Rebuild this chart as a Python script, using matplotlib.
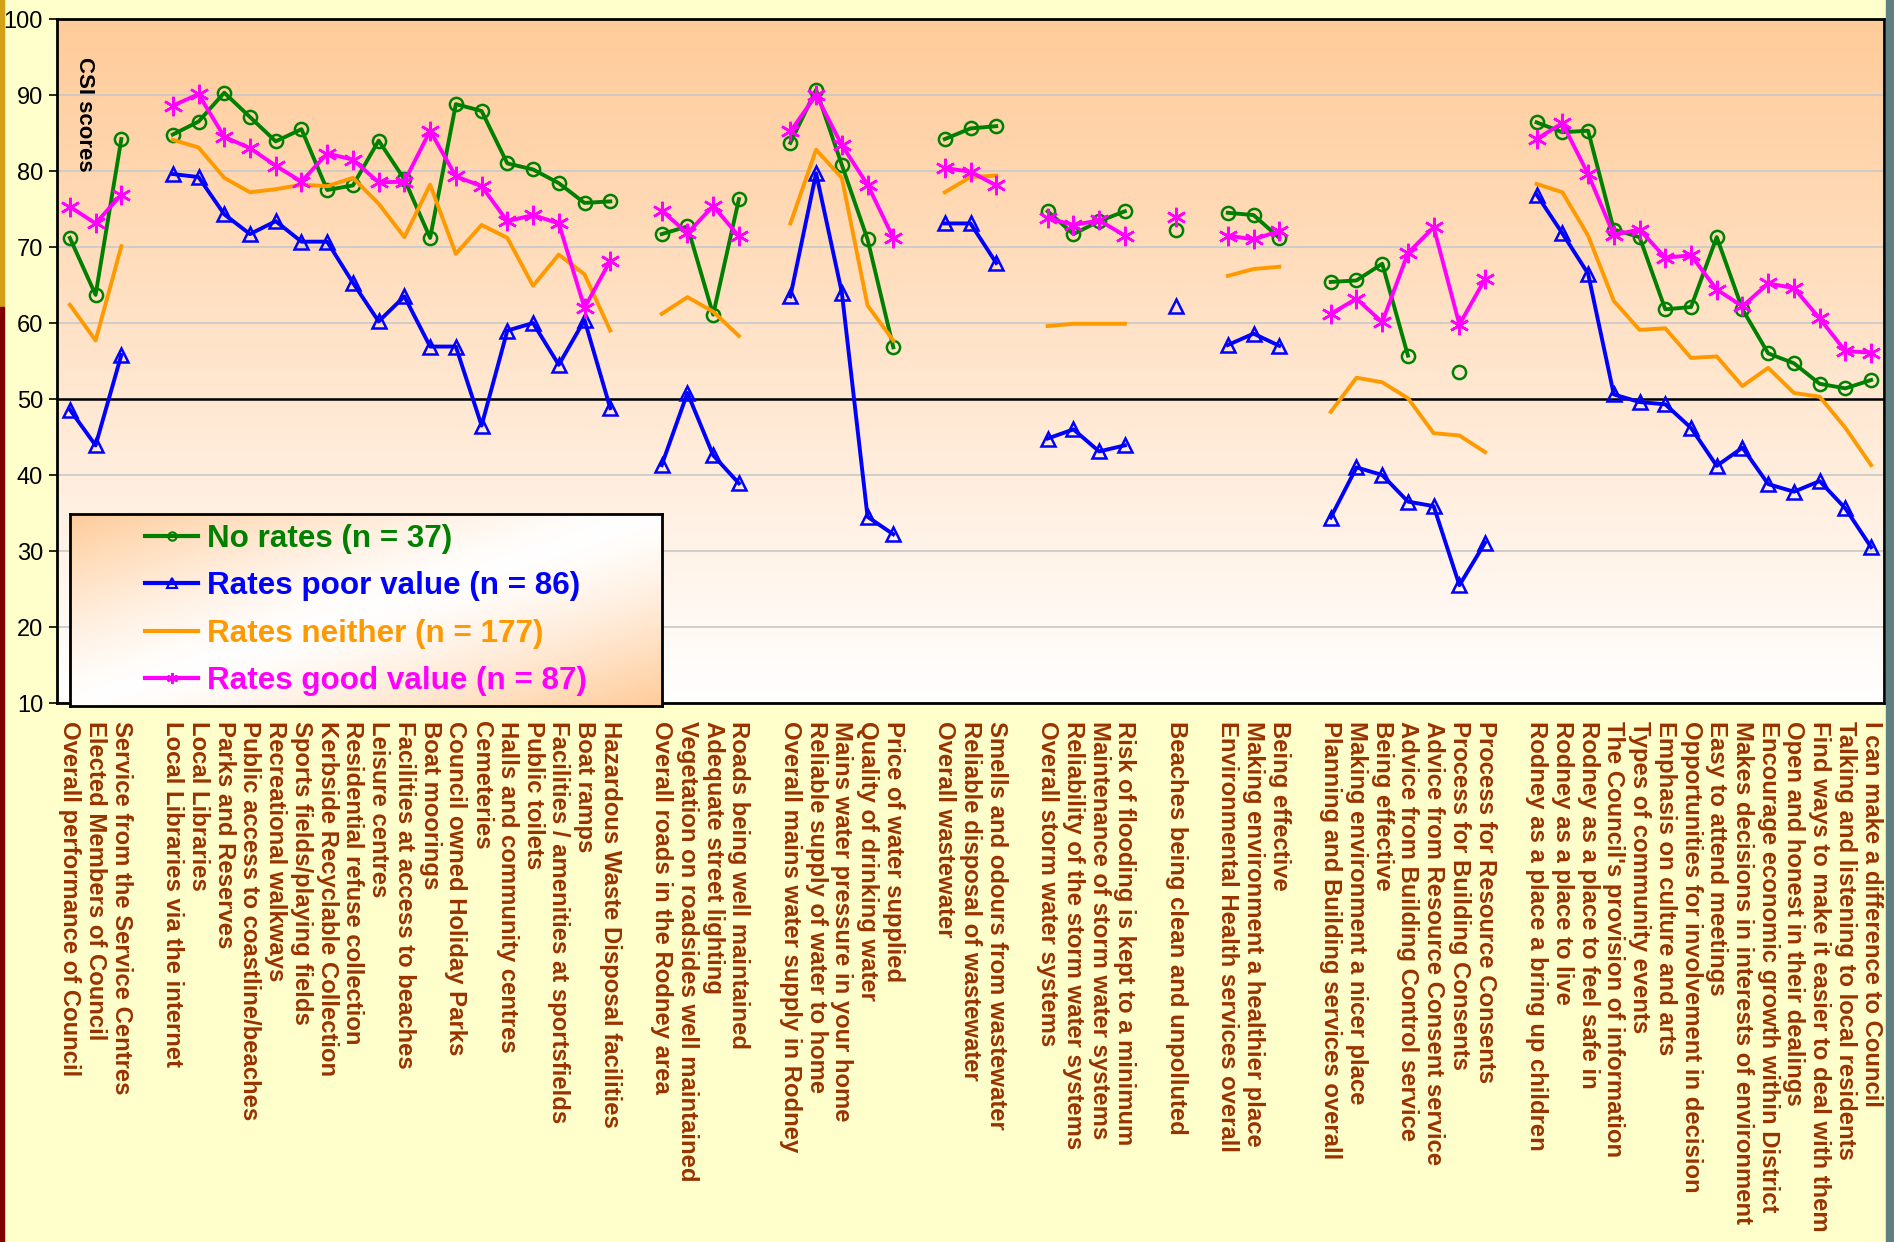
import numpy as np
import matplotlib
matplotlib.use("Agg")
import matplotlib.pyplot as plt
from matplotlib.lines import Line2D
from matplotlib.patches import Rectangle

# category labels, None marks the gap between question groups
labels = [
    "Overall performance of Council", "Elected Members of Council",
    "Service from the Service Centres", None,
    "Local Libraries via the internet", "Local Libraries", "Parks and Reserves",
    "Public access to coastline/beaches", "Recreational walkways",
    "Sports fields/playing fields", "Kerbside Recyclable Collection",
    "Residential refuse collection", "Leisure centres",
    "Facilities at access to beaches", "Boat moorings",
    "Council owned Holiday Parks", "Cemeteries", "Halls and community centres",
    "Public toilets", "Facilities / amenities at sportsfields", "Boat ramps",
    "Hazardous Waste Disposal facilities", None,
    "Overall roads in the Rodney area", "Vegetation on roadsides well maintained",
    "Adequate street lighting", "Roads being well maintained", None,
    "Overall mains water supply in Rodney", "Reliable supply of water to home",
    "Mains water pressure in your home", "Quality of drinking water",
    "Price of water supplied", None,
    "Overall wastewater", "Reliable disposal of wastewater",
    "Smells and odours from wastewater", None,
    "Overall storm water systems", "Reliability of the storm water systems",
    "Maintenance of storm water systems", "Risk of flooding is kept to a minimum", None,
    "Beaches being clean and unpolluted", None,
    "Environmental Health services overall", "Making environment a healthier place",
    "Being effective", None,
    "Planning and Building services overall", "Making environment a nicer place",
    "Being effective", "Advice from Building Control service",
    "Advice from Resource Consent service", "Process for Building Consents",
    "Process for Resource Consents", None,
    "Rodney as a place a bring up children", "Rodney as a place to live",
    "Rodney as a place to feel safe in", "The Council's provision of information",
    "Types of community events", "Emphasis on culture and arts",
    "Opportunities for involvement in decision", "Easy to attend meetings",
    "Makes decisions in interests of environment",
    "Encourage economic growth within District",
    "Open and honest in their dealings",
    "Find ways to make it easier to deal with them",
    "Talking and listening to local residents",
    "I can make a difference to Council",
]

no_rates = [
    71.2, 63.7, 84.2, None,
    84.8, 86.5, 90.3, 87.1, 83.9, 85.5, 77.5, 78.1, 84.0, 78.9, 71.2, 88.8,
    87.9, 81.0, 80.2, 78.4, 75.8, 76.0, None,
    71.7, 72.7, 61.1, 76.3, None,
    83.7, 90.7, 80.8, 71.0, 56.8, None,
    84.2, 85.6, 85.9, None,
    74.7, 71.7, 73.4, 74.7, None,
    72.3, None,
    74.5, 74.2, 71.2, None,
    65.4, 65.6, 67.8, 55.7, None, 53.6, None, None,
    86.4, 85.1, 85.3, 72.3, 71.3, 61.8, 62.1, 71.3, 61.8, 56.0, 54.7, 52.0,
    51.4, 52.5,
]

poor_value = [
    48.6, 43.9, 55.8, None,
    79.6, 79.2, 74.3, 71.7, 73.4, 70.7, 70.7, 65.3, 60.2, 63.5, 56.9, 56.9,
    46.5, 59.0, 60.0, 54.5, 60.4, 48.8, None,
    41.3, 50.8, 42.6, 38.9, None,
    63.5, 79.7, 64.0, 34.5, 32.2, None,
    73.1, 73.1, 67.9, None,
    44.8, 46.0, 43.1, 43.9, None,
    62.3, None,
    57.1, 58.6, 57.0, None,
    34.4, 41.0, 40.0, 36.5, 35.9, 25.5, 31.1, None,
    76.9, 71.8, 66.5, 50.6, 49.6, 49.3, 46.2, 41.2, 43.6, 38.8, 37.8, 39.2,
    35.6, 30.5,
]

neither = [
    62.4, 57.7, 70.1, None,
    84.1, 83.1, 79.1, 77.2, 77.6, 78.2, 78.0, 79.1, 75.7, 71.3, 78.2, 69.1,
    72.9, 71.2, 64.9, 69.0, 66.4, 59.0, None,
    61.2, 63.4, 61.5, 58.3, None,
    73.1, 82.8, 79.1, 62.3, 57.7, None,
    77.2, 79.2, 79.4, None,
    59.6, 59.9, 59.9, 59.9, None,
    None, None,
    66.2, 67.1, 67.4, None,
    48.3, 52.8, 52.2, 50.1, 45.5, 45.2, 43.0, None,
    78.3, 77.2, 71.5, 62.9, 59.1, 59.3, 55.4, 55.6, 51.7, 54.1, 50.8, 50.3,
    46.2, 41.3,
]

good_value = [
    75.3, 73.1, 76.9, None,
    88.6, 90.1, 84.5, 83.0, 80.7, 78.6, 82.3, 81.5, 78.5, 78.6, 85.3, 79.3,
    78.0, 73.4, 74.2, 73.1, 62.0, 68.2, None,
    74.8, 71.8, 75.4, 71.4, None,
    85.2, 90.0, 83.4, 78.2, 71.2, None,
    80.4, 79.9, 78.1, None,
    73.8, 72.9, 73.5, 71.5, None,
    74.0, None,
    71.5, 71.0, 72.1, None,
    61.2, 63.2, 60.1, 69.2, 72.6, 59.8, 65.8, None,
    84.2, 86.3, 79.6, 71.6, 72.3, 68.6, 68.9, 64.4, 62.2, 65.2, 64.6, 60.6,
    56.3, 56.1,
]

series_names = ["No rates (n = 37)", "Rates poor value (n = 86)",
                "Rates neither (n = 177)", "Rates good value (n = 87)"]


def arr(vals):
    return np.array([np.nan if v is None else v for v in vals], dtype=float)


x = np.arange(len(labels))
tick_pos = [i for i, l in enumerate(labels) if l is not None]
tick_lab = [l for l in labels if l is not None]

label_col = "#993300"
sans = ["Liberation Sans", "DejaVu Sans"]
narrow = ["Liberation Sans Narrow", "Liberation Sans", "DejaVu Sans"]

fig = plt.figure(figsize=(18.94, 12.42), dpi=100)
fig.patch.set_facecolor("#FFFFCC")

# slide edge strips
fig.patches.append(Rectangle((0, 1 - 307 / 1242), 4 / 1894, 307 / 1242,
                             transform=fig.transFigure, color="#D4A017", zorder=0))
fig.patches.append(Rectangle((0, 0), 4 / 1894, 1 - 307 / 1242,
                             transform=fig.transFigure, color="#800000", zorder=0))
fig.patches.append(Rectangle((1886 / 1894, 0), 8 / 1894, 1,
                             transform=fig.transFigure, color="#5F7F80", zorder=0))

ax = fig.add_axes([57 / 1894, 1 - 703 / 1242, 1827 / 1894, 684 / 1242])

# peach to white background
grad = np.linspace(0, 1, 256)[:, None]
top = np.array([255, 203, 153]) / 255
bot = np.array([255, 255, 255]) / 255
img = top[None, None, :] * (1 - grad[..., None]) + bot[None, None, :] * grad[..., None]
ax.imshow(img, extent=[-0.5, len(labels) - 0.5, 10, 100], aspect="auto",
          zorder=0, interpolation="bilinear")

ax.set_xlim(-0.5, len(labels) - 0.5)
ax.set_ylim(10, 100)
ax.set_yticks(range(10, 101, 10))
ax.yaxis.grid(True, color="#C8C8C8", lw=1.2, zorder=1)
ax.set_axisbelow(True)
ax.axhline(50, color="black", lw=1.8, zorder=2)

lw = 2.8
ax.plot(x, arr(no_rates), color="#008000", lw=lw, marker="o", ms=9.5,
        mfc="none", mew=1.8, zorder=3)
ax.plot(x, arr(poor_value), color="#0000FF", lw=lw, marker="^", ms=10.5,
        mfc="none", mew=1.8, zorder=3)
ax.plot(x, arr(neither), color="#FF9900", lw=lw, zorder=3)
ax.plot(x, arr(good_value), color="#FF00FF", lw=lw, marker=(6, 2, 0), ms=14,
        mew=1.8, zorder=3)

ax.set_xticks(tick_pos)
ax.set_xticklabels(tick_lab, rotation=270, ha="center", va="top",
                   color=label_col, fontweight="bold", fontsize=17.2,
                   family=sans)
ax.tick_params(axis="x", length=0, pad=13)
ax.tick_params(axis="y", length=6, width=1.2, pad=4, labelsize=17)
for t in ax.get_yticklabels():
    t.set_family(narrow)

for s in ax.spines.values():
    s.set_linewidth(2)
    s.set_color("black")

ax.text(0.0148, 0.945, "CSI scores", transform=ax.transAxes, rotation=270,
        ha="center", va="top", fontsize=16, fontweight="bold", family=sans)

# legend box with its own gradient
lax = fig.add_axes([70 / 1894, 1 - 706 / 1242, 592 / 1894, 192 / 1242], zorder=5)
gx, gy = np.meshgrid(np.linspace(0, 1, 300), np.linspace(0, 1, 120))
u = np.abs(gx + gy - 1) ** 1.3
lim = top[None, None, :] * u[..., None] + bot[None, None, :] * (1 - u[..., None])
lax.imshow(lim, extent=[0, 1, 0, 1], aspect="auto", interpolation="bilinear")
lax.set_xticks([])
lax.set_yticks([])
for s in lax.spines.values():
    s.set_linewidth(2)
    s.set_color("black")

handles = [
    Line2D([], [], color="#008000", lw=3, marker="o", ms=6, mfc="none", mew=1.5),
    Line2D([], [], color="#0000FF", lw=3, marker="^", ms=7, mfc="none", mew=1.5),
    Line2D([], [], color="#FF9900", lw=3),
    Line2D([], [], color="#FF00FF", lw=3, marker=(6, 2, 0), ms=8, mew=1.5),
]
leg = lax.legend(handles, series_names, loc="center left",
                 bbox_to_anchor=(75 / 592, 0.5), frameon=False,
                 borderaxespad=0, borderpad=0, handlelength=1.7,
                 handletextpad=0.27, labelspacing=0.55,
                 prop={"family": narrow, "weight": "bold", "size": 22.6})
for t, c in zip(leg.get_texts(), ["#008000", "#0000FF", "#FF9900", "#FF00FF"]):
    t.set_color(c)

fig.savefig("out.png", dpi=100, facecolor=fig.get_facecolor())
